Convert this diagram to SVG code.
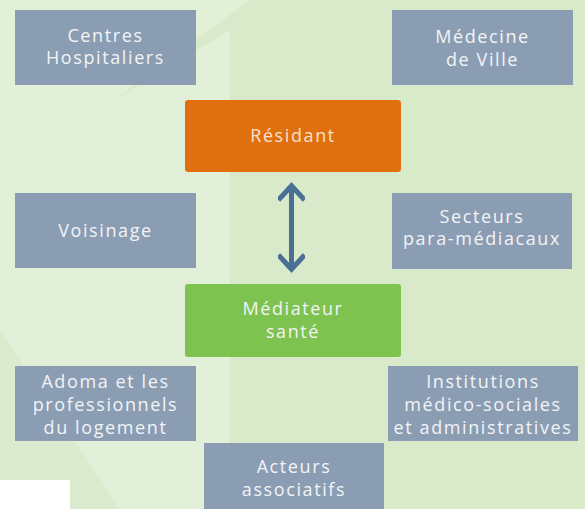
<svg xmlns="http://www.w3.org/2000/svg" width="585" height="509" viewBox="0 0 585 509">
<defs>
<style>
.box{fill:#8b9db3}
.t{font-family:"Open Sans","Liberation Sans",sans-serif;font-size:18px;letter-spacing:1.6px;fill:#f2f4f6;text-anchor:middle}
.tr{fill:#f6e2cc}
</style>
<marker id="ah" viewBox="0 0 12 12" refX="6" refY="6" markerWidth="5.5" markerHeight="5.5" orient="auto-start-reverse" markerUnits="strokeWidth">
<path d="M1.5,1 L7,6 L1.5,11" fill="none" stroke="#4a6f95" stroke-width="2.2" stroke-linecap="square"/>
</marker>
</defs>
<rect width="585" height="509" fill="#d9eacb"/>
<polygon points="0,0 250,0 60,140 0,170" fill="#e2f0d7"/>
<polygon points="0,170 230,30 230,509 120,509 0,330" fill="#e3f0d9"/>
<polygon points="0,330 120,509 0,509" fill="#dbecce"/>
<rect x="0" y="480" width="70" height="29" fill="#ffffff"/>
<g id="centres">
<rect class="box" x="15" y="10" width="181" height="75"/>
<text class="t" x="105.5" y="42">Centres</text>
<text class="t" x="105.5" y="64">Hospitaliers</text>
</g>
<g id="medecine">
<rect class="box" x="392" y="10" width="181" height="75"/>
<text class="t" x="482.5" y="43">Médecine</text>
<text class="t" x="482.5" y="66">de Ville</text>
</g>
<g id="residant">
<rect x="185" y="100" width="216" height="72" rx="3" fill="#e0700f"/>
<text class="t tr" x="293" y="142">Résidant</text>
</g>
<g id="voisinage">
<rect class="box" x="15" y="193" width="181" height="75"/>
<text class="t" x="105.5" y="237">Voisinage</text>
</g>
<g id="secteurs">
<rect class="box" x="392" y="193" width="180" height="76"/>
<text class="t" x="482" y="223">Secteurs</text>
<text class="t" x="482" y="245">para-médiacaux</text>
</g>
<g id="mediateur">
<rect x="185" y="284" width="216" height="73" rx="3" fill="#7ec24f"/>
<text class="t" x="293" y="315">Médiateur</text>
<text class="t" x="293" y="338">santé</text>
</g>
<g id="adoma">
<rect class="box" x="15" y="366" width="181" height="75"/>
<text class="t" x="105.5" y="388">Adoma et les</text>
<text class="t" x="105.5" y="411">professionnels</text>
<text class="t" x="105.5" y="434">du logement</text>
</g>
<g id="institutions">
<rect class="box" x="388" y="366" width="190" height="75"/>
<text class="t" x="483" y="388">Institutions</text>
<text class="t" x="483" y="411">médico-sociales</text>
<text class="t" x="483" y="434">et administratives</text>
</g>
<g id="acteurs">
<rect class="box" x="204" y="443" width="180" height="70"/>
<text class="t" x="294" y="473">Acteurs</text>
<text class="t" x="294" y="496">associatifs</text>
</g>
<g id="connectors">
<line x1="291.5" y1="188" x2="291.5" y2="267" stroke="#4a6f95" stroke-width="5" marker-start="url(#ah)" marker-end="url(#ah)"/>
</g>
</svg>
